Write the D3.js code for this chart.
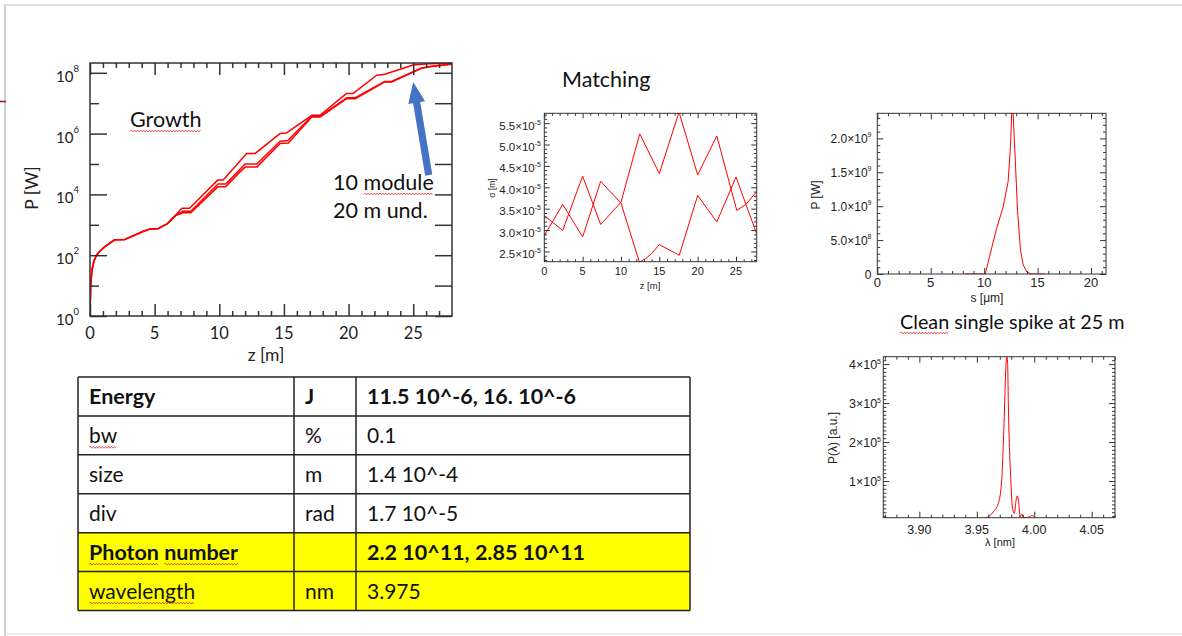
<!DOCTYPE html>
<html>
<head>
<meta charset="utf-8">
<script src="https://cdn.jsdelivr.net/npm/d3@7"></script>
<style>
  html, body { margin: 0; padding: 0; background: #fff; }
  svg { display: block; }
</style>
</head>
<body>
<svg id="slide" width="1182" height="636"></svg>
<script>
// ---------- data ----------
// FEL power growth along the undulator, z [m] vs P [W]; three runs share the start-up part
const growthZStart = [0, 0.05, 0.15, 0.3, 0.5, 0.8, 1.2, 1.9, 2.7, 4.1, 4.6, 5.3, 6.0, 6.6];
const growthPStart = [1, 10, 32, 63, 100, 140, 200, 320, 330, 600, 720, 760, 1100, 2000];
const growthZTop = [7.1, 7.7, 9.9, 10.3, 12.12, 12.76, 14.69, 15.21, 17.15, 17.79, 19.85, 20.36, 22.17, 22.8, 25.0, 26.2, 28];
const growthPTop = [3500, 3500, 3.0e4, 3.0e4, 2.2e5, 2.2e5, 1.0e6, 1.05e6, 4.0e6, 4.0e6, 2.1e7, 2.1e7, 8.3e7, 8.9e7, 1.8e8, 2.0e8, 2.05e8];
const growthZMid = [7.2, 7.8, 9.9, 10.5, 12.0, 12.9, 14.7, 15.3, 17.15, 17.79, 19.85, 20.5, 22.8, 23.33, 25.65, 26.4, 28];
const growthPMid = [2800, 2800, 2.2e4, 2.2e4, 1.0e5, 1.0e5, 5.6e5, 5.9e5, 3.7e6, 3.7e6, 1.5e7, 1.5e7, 5.2e7, 5.2e7, 1.45e8, 1.65e8, 1.95e8];
const growthZLow = [7.2, 7.8, 9.9, 10.5, 11.6, 12.0, 12.9, 14.7, 15.34, 17.15, 17.79, 19.85, 20.5, 22.8, 23.33, 25.65, 26.4, 28];
const growthPLow = [2500, 2500, 1.8e4, 1.8e4, 5.5e4, 7.9e4, 7.9e4, 4.7e5, 4.9e5, 3.5e6, 3.5e6, 1.4e7, 1.4e7, 5.0e7, 5.0e7, 1.4e8, 1.6e8, 1.9e8];
const growthXTicks = [0, 5, 10, 15, 20, 25];
const growthYExponents = [0, 2, 4, 6, 8];
// annotation arrow, from the label up to the end of the 10th module
const arrowTail = { z: 26.2, p: 4.3e4 };
const arrowTip = { z: 25.0, p: 5.0e7 };

// beam size matching along the undulator, z [m] vs sigma [m]
const matchZA = [0, 2.4, 5.0, 7.35, 10.0, 12.45, 15.0, 17.57, 20.0, 22.5, 25.1, 26.3, 27.7];
const matchSigA = [3.34e-5, 2.99e-5, 4.26e-5, 3.13e-5, 3.65e-5, 5.25e-5, 4.32e-5, 5.76e-5, 4.29e-5, 5.2e-5, 3.46e-5, 3.6e-5, 3.9e-5];
const matchZB = [0, 2.4, 5.0, 7.35, 10.0, 12.4, 13.2, 14.0, 15.0, 17.6, 20.0, 22.5, 25.0, 27.7];
const matchSigB = [2.87e-5, 3.6e-5, 2.84e-5, 4.14e-5, 3.63e-5, 2.25e-5, 2.33e-5, 2.45e-5, 2.66e-5, 2.41e-5, 3.81e-5, 3.19e-5, 4.24e-5, 2.91e-5];
const matchXTicks = [0, 5, 10, 15, 20, 25];
const matchYTicks = [2.5e-5, 3.0e-5, 3.5e-5, 4.0e-5, 4.5e-5, 5.0e-5, 5.5e-5];
const matchYLabels = ["2.5", "3.0", "3.5", "4.0", "4.5", "5.0", "5.5"];

// temporal power profile at 25 m, s [um] vs P [W]
const pulseS = [8.2, 9.9, 10.1, 10.5, 11.16, 11.78, 12.24, 12.46, 12.6, 12.68, 12.87, 13.12, 13.4, 13.65, 14.0, 14.4, 15.7];
const pulseP = [0, 0, 0, 2.55e8, 6.7e8, 9.9e8, 1.36e9, 1.88e9, 2.45e9, 2.45e9, 1.83e9, 9.4e8, 3.5e8, 1.33e8, 3.0e7, 0, 0];
const pulseXTicks = [0, 5, 10, 15, 20];
const pulseYTicks = [0, 5e8, 1e9, 1.5e9, 2e9];
const pulseYLabels = [["0", null], ["5.0\u00d710", "8"], ["1.0\u00d710", "9"], ["1.5\u00d710", "9"], ["2.0\u00d710", "9"]];

// spectrum at 25 m, wavelength [nm] vs P(lambda) [a.u.]
const specLam = [3.9572, 3.9610, 3.9644, 3.9688, 3.9717, 3.9737, 3.9752, 3.9761, 3.9768, 3.9775, 3.9796, 3.9813, 3.9827, 3.9842, 3.9853, 3.9868, 3.9877, 3.9892, 3.9906, 3.9964, 3.9979, 4.0007];
const specP = [6e3, 1.0e4, 2.1e4, 4.3e4, 1.03e5, 2.48e5, 3.85e5, 4.2e5, 4.05e5, 2.9e5, 1.03e5, 2.6e4, 1.7e4, 5.1e4, 6.2e4, 3.5e4, 7e3, 1.5e4, 6e3, 8e3, 1.2e4, 6e3];
const specXTicks = [3.90, 3.95, 4.00, 4.05];
const specXLabels = ["3.90", "3.95", "4.00", "4.05"];
const specYTicks = [1e5, 2e5, 3e5, 4e5];
const specYLabels = ["1", "2", "3", "4"];

// summary table
const tableLabels = ["Energy", "bw", "size", "div", "Photon number", "wavelength"];
const tableUnits = ["J", "%", "m", "rad", "", "nm"];
const tableValues = ["11.5 10^-6, 16. 10^-6", "0.1", "1.4 10^-4", "1.7 10^-5", "2.2 10^11, 2.85 10^11", "3.975"];
const tableBold = [true, false, false, false, true, false];
const tableHighlight = [false, false, false, false, true, true];
const tableSpell = [false, true, false, false, true, true];

// ---------- helpers ----------
const SLIDE_FONT = "Lato, 'Open Sans', sans-serif";
const PLOT_FONT = "'Liberation Sans', Arial, sans-serif";
const svg = d3.select("#slide");

function zip(xs, ys) { return xs.map((x, i) => ({ x: x, y: ys[i] })); }

// inward ticks on one side of a frame, drawn with a d3 axis
function inwardTicks(g, scale, side, pos, values, len, color, width) {
  const mk = { bottom: d3.axisBottom, top: d3.axisTop, left: d3.axisLeft, right: d3.axisRight }[side];
  const tr = (side === "bottom" || side === "top") ? `translate(0,${pos})` : `translate(${pos},0)`;
  const a = g.append("g").attr("transform", tr)
    .call(mk(scale).tickValues(values).tickSize(-len).tickFormat(""));
  a.select(".domain").remove();
  a.selectAll("line").attr("stroke", color).attr("stroke-width", width);
  return a;
}

function frameTicks(g, x, y, spec) {
  const [x0, x1] = x.range(); const [y0, y1] = y.range();
  inwardTicks(g, x, "bottom", y0, spec.xMinor, spec.xMinorLen, spec.color, spec.width);
  inwardTicks(g, x, "top", y1, spec.xMinor, spec.xMinorLen, spec.color, spec.width);
  inwardTicks(g, x, "bottom", y0, spec.xMajor, spec.xMajorLen, spec.color, spec.width);
  inwardTicks(g, x, "top", y1, spec.xMajor, spec.xMajorLen, spec.color, spec.width);
  inwardTicks(g, y, "left", x0, spec.yMinor, spec.yMinorLen, spec.color, spec.width);
  inwardTicks(g, y, "right", x1, spec.yMinor, spec.yMinorRLen || spec.yMinorLen, spec.color, spec.width);
  inwardTicks(g, y, "left", x0, spec.yMajor, spec.yMajorLen, spec.color, spec.width);
  inwardTicks(g, y, "right", x1, spec.yMajor, spec.yMajorRLen || spec.yMajorLen, spec.color, spec.width);
  g.append("rect").attr("x", x0).attr("y", y1).attr("width", x1 - x0).attr("height", y0 - y1)
    .attr("fill", "none").attr("stroke", spec.color).attr("stroke-width", spec.width);
}

// label with an optional superscript, anchored at (x, baseline)
function supLabel(g, x, y, base, sup, size, font, anchor, supDy, supSize) {
  const t = g.append("text").attr("x", x).attr("y", y).attr("text-anchor", anchor)
    .attr("font-family", font).attr("font-size", size).attr("fill", "#222");
  t.append("tspan").text(base);
  if (sup !== null && sup !== undefined) {
    t.append("tspan").attr("dy", supDy).attr("font-size", supSize).text(sup);
  }
  return t;
}

// red wavy spell-check underline between two x positions
function wavy(g, xa, xb, y) {
  let d = `M${xa},${y}`; let up = true;
  for (let xx = xa + 1.5; xx <= xb; xx += 1.5) { d += ` L${xx},${y + (up ? -0.9 : 0.9)}`; up = !up; }
  g.append("path").attr("d", d).attr("fill", "none").attr("stroke", "#e0302a").attr("stroke-width", 0.8);
}
// underline the characters [from, to) of a text element
function spell(g, t, from, to, gap) {
  const n = t.node(); const x0 = +t.attr("x"); const y = +t.attr("y") + (gap || 4);
  const a = from > 0 ? n.getSubStringLength(0, from) : 0;
  const b = n.getSubStringLength(0, to);
  wavy(g, x0 + a, x0 + b, y);
}

function slideText(g, x, y, str, size, bold) {
  return g.append("text").attr("x", x).attr("y", y).attr("font-family", SLIDE_FONT)
    .attr("font-size", size).attr("font-weight", bold ? 700 : 400).attr("fill", "#111").text(str);
}

// ---------- slide background ----------
svg.append("rect").attr("width", 1182).attr("height", 636).attr("fill", "#fff");
svg.append("line").attr("x1", 3).attr("x2", 1182).attr("y1", 5).attr("y2", 5).attr("stroke", "#e2e2e2").attr("stroke-width", 2);
svg.append("line").attr("x1", 5).attr("x2", 5).attr("y1", 5).attr("y2", 636).attr("stroke", "#cfcfcf").attr("stroke-width", 2);
svg.append("line").attr("x1", 5).attr("x2", 1182).attr("y1", 634).attr("y2", 634).attr("stroke", "#e6e6e6").attr("stroke-width", 1.5);
svg.append("line").attr("x1", 0).attr("x2", 6).attr("y1", 101.5).attr("y2", 101.5).attr("stroke", "#8b1a1a").attr("stroke-width", 1.5);

// ---------- growth ----------
{
  const g = svg.append("g");
  const x = d3.scaleLinear().domain([0, 28]).range([90, 452]);
  const y = d3.scaleLog().domain([1, 2.1e8]).range([316, 63]);
  g.append("clipPath").attr("id", "clipGrowth").append("rect")
    .attr("x", 90).attr("y", 62).attr("width", 362).attr("height", 254);
  const line = d3.line().x(d => x(d.x)).y(d => y(d.y));
  const start = zip(growthZStart, growthPStart);
  const runs = [zip(growthZLow, growthPLow), zip(growthZMid, growthPMid), zip(growthZTop, growthPTop)];
  const curves = g.append("g").attr("clip-path", "url(#clipGrowth)");
  runs.forEach(r => {
    curves.append("path").attr("d", line(start.concat(r))).attr("fill", "none")
      .attr("stroke", "#f00").attr("stroke-width", 1.5).attr("stroke-linejoin", "round");
  });
  const minorX = d3.range(1, 28).filter(v => v % 5 !== 0);
  frameTicks(g, x, y, {
    xMajor: growthXTicks, xMinor: minorX, xMajorLen: 12, xMinorLen: 5,
    yMajor: growthYExponents.map(e => Math.pow(10, e)), yMinor: [1, 3, 5, 7].map(e => Math.pow(10, e)),
    yMajorLen: 17, yMinorLen: 9, yMinorRLen: 17, yMajorRLen: 17, color: "#333", width: 1.5
  });
  growthXTicks.forEach(v => {
    g.append("text").attr("x", x(v)).attr("y", 338.5).attr("text-anchor", "middle")
      .attr("font-family", SLIDE_FONT).attr("font-size", 16.5).attr("fill", "#222").text(v);
  });
  growthYExponents.forEach(e => {
    supLabel(g, 79, y(Math.pow(10, e)) + 9, "10", String(e), 15, SLIDE_FONT, "end", -10, 9.5);
  });
  g.append("text").attr("x", 266).attr("y", 361).attr("text-anchor", "middle")
    .attr("font-family", SLIDE_FONT).attr("font-size", 17.5).attr("fill", "#222").text("z [m]");
  g.append("text").attr("transform", "translate(38,188) rotate(-90)").attr("text-anchor", "middle")
    .attr("font-family", SLIDE_FONT).attr("font-size", 17.5).attr("fill", "#222").text("P [W]");

  const tG = slideText(g, 130, 127, "Growth", 21.5, false);
  spell(g, tG, 0, 6, 4);

  // arrow
  const tx = x(arrowTail.z), ty = y(arrowTail.p), hx = x(arrowTip.z), hy = y(arrowTip.p);
  const L = Math.hypot(hx - tx, hy - ty), ux = (hx - tx) / L, uy = (hy - ty) / L, px = -uy, py = ux;
  const hw = 3.6, hh = 8.5, hl = 21;
  const bx = hx - ux * hl, by = hy - uy * hl;
  const pts = [
    [tx + px * hw, ty + py * hw], [bx + px * hw, by + py * hw], [bx + px * hh, by + py * hh], [hx, hy],
    [bx - px * hh, by - py * hh], [bx - px * hw, by - py * hw], [tx - px * hw, ty - py * hw]
  ];
  g.append("polygon").attr("points", pts.map(p => p.join(",")).join(" ")).attr("fill", "#4472c4");

  const t1 = slideText(g, 333, 190, "10 module", 21.5, false);
  slideText(g, 333, 218, "20 m und.", 21.5, false);
  spell(g, t1, 3, 9, 4);
}

// ---------- matching ----------
{
  const g = svg.append("g");
  slideText(g, 562, 87, "Matching", 21.5, false);
  const x = d3.scaleLinear().domain([0, 27.7]).range([544.3, 756.7]);
  const y = d3.scaleLinear().domain([2.26e-5, 5.73e-5]).range([261.7, 113.3]);
  g.append("clipPath").attr("id", "clipMatch").append("rect")
    .attr("x", 544.3).attr("y", 113.3).attr("width", 212.4).attr("height", 148.4);
  const line = d3.line().x(d => x(d.x)).y(d => y(d.y));
  const cg = g.append("g").attr("clip-path", "url(#clipMatch)");
  [zip(matchZA, matchSigA), zip(matchZB, matchSigB)].forEach(s => {
    cg.append("path").attr("d", line(s)).attr("fill", "none").attr("stroke", "#f00").attr("stroke-width", 1);
  });
  frameTicks(g, x, y, {
    xMajor: matchXTicks, xMinor: d3.range(1, 28).filter(v => v % 5 !== 0), xMajorLen: 5, xMinorLen: 2.5,
    yMajor: matchYTicks, yMinor: d3.range(23, 58).map(v => v * 1e-6).filter(v => Math.round(v * 1e6) % 5 !== 0),
    yMajorLen: 5.5, yMinorLen: 2.8, color: "#333", width: 1
  });
  matchXTicks.forEach(v => {
    g.append("text").attr("x", x(v)).attr("y", 275).attr("text-anchor", "middle")
      .attr("font-family", PLOT_FONT).attr("font-size", 11).attr("fill", "#222").text(v);
  });
  matchYTicks.forEach((v, i) => {
    supLabel(g, 541, y(v) + 6.5, matchYLabels[i] + "\u00d710", "-5", 11.5, PLOT_FONT, "end", -5, 7);
  });
  g.append("text").attr("x", 650).attr("y", 289).attr("text-anchor", "middle")
    .attr("font-family", PLOT_FONT).attr("font-size", 9.5).attr("fill", "#222").text("z [m]");
  g.append("text").attr("transform", "translate(495,188) rotate(-90)").attr("text-anchor", "middle")
    .attr("font-family", PLOT_FONT).attr("font-size", 8.5).attr("fill", "#222").text("\u03c3 [m]");
}

// ---------- pulse power ----------
{
  const g = svg.append("g");
  const x = d3.scaleLinear().domain([0, 21.4]).range([877.3, 1106]);
  const y = d3.scaleLinear().domain([0, 2.37e9]).range([274, 113.3]);
  g.append("clipPath").attr("id", "clipPulse").append("rect")
    .attr("x", 877.3).attr("y", 113.3).attr("width", 228.7).attr("height", 161);
  const line = d3.line().x(d => x(d.x)).y(d => y(d.y));
  g.append("g").attr("clip-path", "url(#clipPulse)").append("path")
    .attr("d", line(zip(pulseS, pulseP))).attr("fill", "none").attr("stroke", "#f00").attr("stroke-width", 1);
  frameTicks(g, x, y, {
    xMajor: pulseXTicks, xMinor: d3.range(1, 22).filter(v => v % 5 !== 0), xMajorLen: 6, xMinorLen: 3,
    yMajor: pulseYTicks, yMinor: d3.range(1, 24).filter(v => v % 5 !== 0).map(v => v * 1e8),
    yMajorLen: 6, yMinorLen: 3, color: "#333", width: 1
  });
  pulseXTicks.forEach(v => {
    g.append("text").attr("x", x(v)).attr("y", 286.5).attr("text-anchor", "middle")
      .attr("font-family", PLOT_FONT).attr("font-size", 13).attr("fill", "#222").text(v);
  });
  pulseYTicks.forEach((v, i) => {
    const [b, s] = pulseYLabels[i];
    supLabel(g, 871.5, y(v) + 4.5, b, s, 12, PLOT_FONT, "end", -5.5, 7);
  });
  g.append("text").attr("x", 987).attr("y", 302).attr("text-anchor", "middle")
    .attr("font-family", PLOT_FONT).attr("font-size", 12).attr("fill", "#222").text("s [\u03bcm]");
  g.append("text").attr("transform", "translate(820,195) rotate(-90)").attr("text-anchor", "middle")
    .attr("font-family", PLOT_FONT).attr("font-size", 12).attr("fill", "#222").text("P [W]");
}

// ---------- spectrum ----------
{
  const g = svg.append("g");
  const t = slideText(g, 900, 329, "Clean single spike at 25 m", 19.8, false);
  spell(g, t, 0, 5, 4);

  const x = d3.scaleLinear().domain([3.8686, 4.0703]).range([883.3, 1115]);
  const y = d3.scaleLinear().domain([5.9e3, 4.19e5]).range([517.7, 356.7]);
  g.append("clipPath").attr("id", "clipSpec").append("rect")
    .attr("x", 883.3).attr("y", 356.7).attr("width", 231.7).attr("height", 161);
  const line = d3.line().x(d => x(d.x)).y(d => y(d.y)).curve(d3.curveMonotoneX);
  g.append("g").attr("clip-path", "url(#clipSpec)").append("path")
    .attr("d", line(zip(specLam, specP))).attr("fill", "none").attr("stroke", "#f00").attr("stroke-width", 1);
  frameTicks(g, x, y, {
    xMajor: specXTicks, xMinor: d3.range(387, 408).map(v => v / 100).filter(v => Math.round(v * 100) % 5 !== 0),
    xMajorLen: 6, xMinorLen: 3,
    yMajor: specYTicks, yMinor: d3.range(1, 42).filter(v => v % 10 !== 0).map(v => v * 1e4),
    yMajorLen: 6, yMinorLen: 3, color: "#333", width: 1
  });
  specXTicks.forEach((v, i) => {
    g.append("text").attr("x", x(v)).attr("y", 534).attr("text-anchor", "middle")
      .attr("font-family", PLOT_FONT).attr("font-size", 12.5).attr("fill", "#222").text(specXLabels[i]);
  });
  specYTicks.forEach((v, i) => {
    supLabel(g, 881, y(v) + 5, specYLabels[i] + "\u00d710", "5", 12.5, PLOT_FONT, "end", -5.5, 7);
  });
  g.append("text").attr("x", 1000).attr("y", 546).attr("text-anchor", "middle")
    .attr("font-family", PLOT_FONT).attr("font-size", 11).attr("fill", "#222").text("\u03bb [nm]");
  g.append("text").attr("transform", "translate(837,438) rotate(-90)").attr("text-anchor", "middle")
    .attr("font-family", PLOT_FONT).attr("font-size", 12).attr("fill", "#222").text("P(\u03bb) [a.u.]");
}

// ---------- table ----------
{
  const g = svg.append("g");
  const cols = [78, 294, 356, 690];
  const rows = d3.scaleBand().domain(d3.range(tableLabels.length)).range([377, 610.5]);
  tableLabels.forEach((lab, i) => {
    const y0 = rows(i), h = rows.bandwidth();
    if (tableHighlight[i]) {
      g.append("rect").attr("x", cols[0]).attr("y", y0).attr("width", cols[3] - cols[0]).attr("height", h).attr("fill", "#ffff00");
    }
    const base = y0 + h / 2 + 8;
    [lab, tableUnits[i], tableValues[i]].forEach((c, j) => {
      if (!c) return;
      const t = slideText(g, cols[j] + 11, base, c, tableBold[i] ? 21.5 : 21, tableBold[i]);
      if (j === 0 && tableSpell[i]) {
        if (lab === "Photon number") { spell(g, t, 0, 6, 4); spell(g, t, 7, 13, 4); }
        else spell(g, t, 0, lab.length, 4);
      }
    });
  });
  // grid lines
  const ys = d3.range(tableLabels.length + 1).map(i => i < tableLabels.length ? rows(i) : 610.5);
  ys.forEach(yy => g.append("line").attr("x1", cols[0]).attr("x2", cols[3]).attr("y1", yy).attr("y2", yy)
    .attr("stroke", "#222").attr("stroke-width", 1.5));
  cols.forEach(xx => g.append("line").attr("x1", xx).attr("x2", xx).attr("y1", 377).attr("y2", 610.5)
    .attr("stroke", "#222").attr("stroke-width", 1.5));
}
</script>
</body>
</html>
